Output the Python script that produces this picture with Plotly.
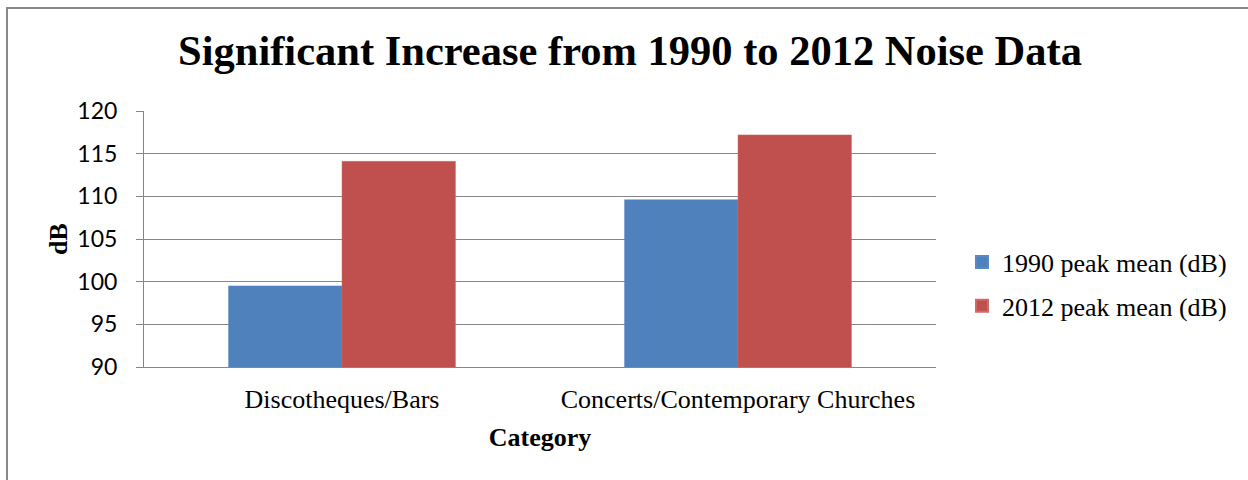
import plotly.graph_objects as go

categories = ["Discotheques/Bars", "Concerts/Contemporary Churches"]
series_names = ["1990 peak mean (dB)", "2012 peak mean (dB)"]
values_1990 = [99.5, 109.6]
values_2012 = [114.1, 117.2]
y_ticks = [90, 95, 100, 105, 110, 115, 120]

W, H = 1248, 480
L, R, T, B = 144, 312, 111, 113
pw, ph = W - L - R, H - T - B

fig = go.Figure()
fig.add_trace(go.Bar(x=categories, y=values_1990, name=series_names[0], legendgroup="a",
                     marker=dict(color="#4F81BD", line=dict(color="#5A8AC6", width=0.5))))
fig.add_trace(go.Bar(x=categories, y=values_2012, name=series_names[1], legendgroup="b",
                     marker=dict(color="#C0504D", line=dict(color="#D06A67", width=0.5))))

serif = "Liberation Serif, Times New Roman, serif"

fig.update_layout(
    width=W, height=H,
    margin=dict(l=L, r=R, t=T, b=B, pad=0),
    paper_bgcolor="white", plot_bgcolor="white",
    barmode="group", bargap=0.427, bargroupgap=0,
    title=dict(text="<b>Significant Increase from 1990 to 2012 Noise Data</b>",
               font=dict(family=serif, size=42.5, color="black"),
               x=630 / W, xanchor="center", y=1 - 50 / H, yanchor="middle"),
    legend=dict(x=(962 - L) / pw, xanchor="left", y=1 - (284 - T) / ph, yanchor="middle",
                font=dict(family=serif, size=26, color="black"),
                tracegroupgap=7, itemsizing="constant", bgcolor="rgba(0,0,0,0)"),
    xaxis=dict(showline=True, linecolor="#868686", linewidth=1, ticks="",
               tickfont=dict(family=serif, size=26, color="black"),
               ticklabelstandoff=9,
               title=dict(text="<b>Category</b>", font=dict(family=serif, size=26, color="black"),
                          standoff=14)),
    yaxis=dict(range=[90, 120], tickvals=y_ticks, showgrid=True, gridcolor="#868686", gridwidth=1,
               showline=True, linecolor="#868686", linewidth=1,
               ticks="outside", ticklen=7, tickcolor="#868686",
               tickfont=dict(family="Lato, sans-serif", size=23, color="black"),
               ticklabelstandoff=14,
               title=dict(text="<b>dB</b>", font=dict(family=serif, size=26, color="black"),
                          standoff=2),
               zeroline=False),
    shapes=[dict(type="rect", xref="paper", yref="paper",
                 x0=(7 - L) / pw, x1=2.0, y0=-2.0, y1=1 + (T - 8) / ph,
                 line=dict(color="#888888", width=2), fillcolor="rgba(0,0,0,0)", layer="below")],
)

fig.write_html("out.html", config={"displayModeBar": False},
               post_script="document.body.style.margin='0px';document.body.style.overflow='hidden';")
